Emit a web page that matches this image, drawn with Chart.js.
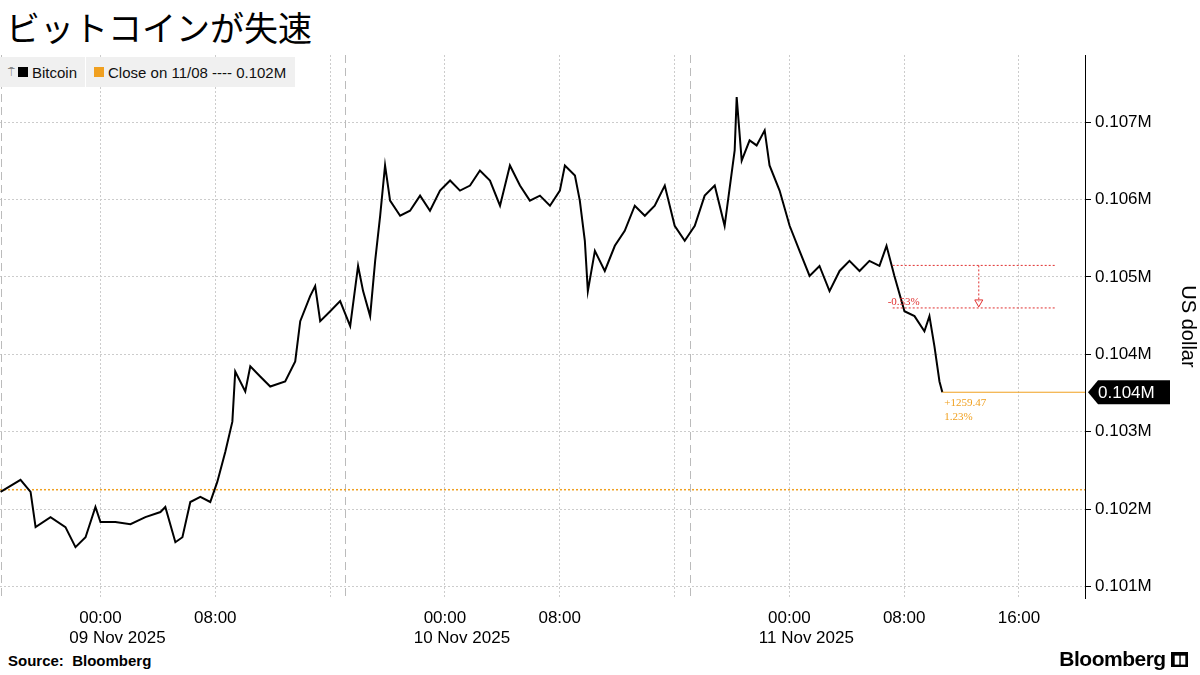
<!DOCTYPE html>
<html><head><meta charset="utf-8">
<script src="https://cdn.jsdelivr.net/npm/chart.js@4"></script>
<style>
body{margin:0;width:1200px;height:675px;background:#fff;font-family:"Noto Sans CJK JP","Liberation Sans",sans-serif;position:relative;overflow:hidden}
#title{position:absolute;left:6px;top:2px;font-size:34px;color:#000}
#legend{position:absolute;left:0;top:57px;height:30px;background:#f0f0f0;display:flex;align-items:center;font-family:"Liberation Sans",Arial;font-size:15px;color:#111}
#legend span.sw{display:inline-block;width:10px;height:10px;margin-right:4px}
#src{position:absolute;left:8px;top:652px;font-family:"Liberation Sans",Arial;font-weight:bold;font-size:15px}
#logo{position:absolute;right:12px;top:647px;font-family:"Liberation Sans",Arial;font-weight:bold;font-size:21px;letter-spacing:-0.5px}
#wrap{position:absolute;left:0;top:40px;width:1200px;height:610px}
</style></head><body>
<div id="title">ビットコインが失速</div>
<div id="wrap"><canvas id="c" width="1200" height="610"></canvas></div>
<div id="legend"><span style="margin-left:8px;color:#888;font-size:11px;margin-right:3px">⍑</span><span class="sw" style="background:#000"></span>Bitcoin<span style="display:inline-block;width:1px;height:30px;background:#fff;margin:0 8px"></span><span class="sw" style="background:#f0a020"></span>Close on 11/08 ---- 0.102M&nbsp;&nbsp;</div>
<div id="src">Source:&nbsp; Bloomberg</div>
<div id="logo">Bloomberg <span style="display:inline-block;background:#000;color:#fff;font-size:11px;padding:1px 3px;vertical-align:3px">▮▮</span></div>
<script>
// hours relative to 09 Nov 2025 00:00
const hours=[-6.96,-5.57,-4.87,-4.52,-3.48,-2.44,-1.74,-1.04,-0.35,0,1.04,2.09,3.13,4.18,4.52,5.22,5.71,6.26,6.96,7.65,8.14,8.70,9.19,9.39,10.09,10.44,11.13,11.83,12.87,13.57,13.92,14.61,14.96,15.31,16.01,16.70,17.40,17.95,18.30,18.79,19.14,19.49,19.83,20.18,20.88,21.57,22.27,22.96,23.66,24.36,25.05,25.75,26.44,27.14,27.84,28.53,29.23,29.92,30.62,31.32,32.01,32.36,33.06,33.40,33.75,33.96,34.45,35.14,35.84,36.53,37.23,37.93,38.62,39.32,40.01,40.71,41.41,42.10,42.80,43.49,44.19,44.33,44.68,45.23,45.72,46.28,46.62,47.32,48.02,48.71,49.41,50.10,50.80,51.50,52.19,52.89,53.58,54.28,54.77,55.32,56.02,56.72,57.41,57.76,58.11,58.46,58.66];
const prices=[102221,102377,102221,101766,101896,101766,101507,101636,102026,101831,101831,101805,101896,101961,102026,101571,101636,102091,102156,102091,102351,102740,103130,103779,103519,103844,103714,103584,103649,103909,104429,104753,104883,104429,104558,104688,104364,105143,104818,104494,105208,105792,106442,105987,105792,105857,106052,105857,106117,106247,106117,106182,106377,106247,105922,106442,106182,105987,106052,105922,106117,106442,106312,105987,105468,104818,105338,105078,105403,105597,105922,105792,105922,106182,105662,105468,105662,106052,106182,105662,106636,107325,106506,106766,106701,106896,106442,106117,105662,105338,105013,105143,104818,105078,105208,105078,105208,105143,105403,105013,104558,104494,104299,104494,104104,103649,103510];
const closePrev=102250;
const yTicks=[101000,102000,103000,104000,105000,106000,107000];
const xTicks=[0,8,16,24,32,40,48,56,64];
const dayLabels={0:'09 Nov 2025',24:'10 Nov 2025',48:'11 Nov 2025'};
const shownTimes=[0,8,24,32,48,56,64];
const dashedSep=[-6.96,17.05,41.06];
const drop={from:105150,to:104600,x0:55.2,x1:66.5,label:'-0.53%'};
const change={abs:'+1259.47',pct:'1.23%'};

const annot={id:'annot',
 beforeDatasetsDraw(ch){const {ctx,scales:{x,y},chartArea:a}=ch;ctx.save();
  ctx.setLineDash([8,5]);ctx.strokeStyle='#bbb';ctx.lineWidth=1;
  dashedSep.forEach(h=>{const px=Math.round(x.getPixelForValue(h))+.5;ctx.beginPath();ctx.moveTo(px,a.top);ctx.lineTo(px,a.bottom);ctx.stroke();});
  ctx.setLineDash([2,2]);ctx.strokeStyle='#f0a020';ctx.lineWidth=1.5;const py=y.getPixelForValue(closePrev);
  ctx.beginPath();ctx.moveTo(a.left,py);ctx.lineTo(a.right,py);ctx.stroke();
  ctx.restore();},
 afterDatasetsDraw(ch){const {ctx,scales:{x,y},chartArea:a}=ch;ctx.save();
  const lx=x.getPixelForValue(hours[hours.length-1]),ly=y.getPixelForValue(prices[prices.length-1]);
  ctx.strokeStyle='#f0a020';ctx.lineWidth=1;ctx.beginPath();ctx.moveTo(lx,ly);ctx.lineTo(a.right,ly);ctx.stroke();
  ctx.fillStyle='#f0a020';ctx.font='11px "Liberation Serif",serif';ctx.fillText(change.abs,lx+2,ly+14);ctx.fillText(change.pct,lx+2,ly+28);
  ctx.strokeStyle='#e03030';ctx.setLineDash([2,2]);const y0=y.getPixelForValue(drop.from),y1=y.getPixelForValue(drop.to),x0=x.getPixelForValue(drop.x0),x1=x.getPixelForValue(drop.x1);
  [y0,y1].forEach(v=>{ctx.beginPath();ctx.moveTo(x0,v);ctx.lineTo(x1,v);ctx.stroke();});
  const ax=(x0+x1)/2+5;ctx.beginPath();ctx.moveTo(ax,y0);ctx.lineTo(ax,y1-6);ctx.stroke();ctx.setLineDash([]);
  ctx.beginPath();ctx.moveTo(ax-4,y1-8);ctx.lineTo(ax+4,y1-8);ctx.lineTo(ax,y1-1);ctx.closePath();ctx.stroke();
  ctx.fillStyle='#e03030';ctx.fillText(drop.label,x0-5,y1-3);
  const tx=a.right+3;ctx.fillStyle='#000';ctx.beginPath();ctx.moveTo(tx,ly);ctx.lineTo(tx+10,ly-12);ctx.lineTo(tx+82,ly-12);ctx.lineTo(tx+82,ly+12);ctx.lineTo(tx+10,ly+12);ctx.closePath();ctx.fill();
  ctx.fillStyle='#fff';ctx.font='17px "Liberation Sans",Arial';ctx.textBaseline='middle';ctx.fillText((Math.round(prices[prices.length-1]/1000)/1000).toFixed(3)+'M',tx+10,ly+1);
  ctx.fillStyle='#000';ctx.textAlign='center';ctx.textBaseline='top';
  Object.keys(dayLabels).forEach(k=>ctx.fillText(dayLabels[k],x.getPixelForValue(+k)+17,a.bottom+32));
  ctx.restore();}};

new Chart(document.getElementById('c'),{type:'line',
 data:{datasets:[{data:hours.map((h,i)=>({x:h,y:prices[i]})),borderColor:'#000',borderWidth:2,pointRadius:0,tension:0}]},
 options:{responsive:false,animation:false,
  layout:{padding:{left:0,right:0,top:15,bottom:0}},
  plugins:{legend:{display:false},tooltip:{enabled:false}},
  scales:{
   x:{type:'linear',min:-7,max:68.6,afterBuildTicks:s=>{s.ticks=xTicks.map(v=>({value:v}));},
     afterFit:s=>{s.height=52;},
     grid:{color:'#ccc',drawTicks:false},border:{display:false,dash:[2,2]},
     ticks:{padding:10,color:'#000',font:{size:17,family:'"Liberation Sans",Arial'},maxRotation:0,autoSkip:false,
       callback:v=>shownTimes.includes(v)?String(((v%24)+24)%24).padStart(2,'0')+':00':''}},
   y:{position:'right',min:100850,max:107870,afterBuildTicks:s=>{s.ticks=yTicks.map(v=>({value:v}));},
     afterFit:s=>{s.width=115;},
     grid:{color:'#ccc',drawTicks:true,tickLength:6,tickColor:'#000'},border:{display:true,color:'#000',dash:[2,2]},
     ticks:{color:'#000',padding:4,font:{size:17,family:'"Liberation Sans",Arial'},callback:v=>(v/1e6).toFixed(3)+'M'},
     title:{display:true,text:'US dollar',color:'#000',font:{size:20,family:'"Liberation Sans",Arial'},padding:{top:0,bottom:0}}}}},
 plugins:[annot]});
</script></body></html>
